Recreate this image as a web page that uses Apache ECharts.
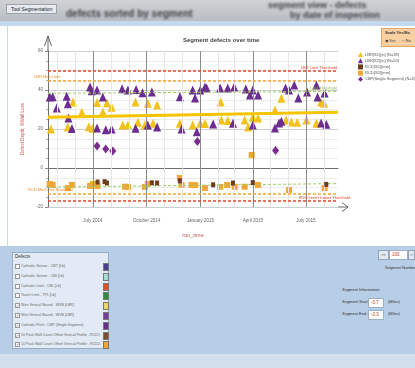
<!DOCTYPE html>
<html>
<head>
<meta charset="utf-8">
<script src="https://cdn.jsdelivr.net/npm/echarts@6/dist/echarts.min.js"></script>
<style>
  html, body { margin: 0; padding: 0; }
  body { width: 415px; height: 368px; overflow: hidden; position: relative; background: #fff;
         font-family: 'Liberation Sans', Arial, sans-serif; }
  .abs { position: absolute; }
  #titlebar { left: 0; top: 0; width: 415px; height: 21px; background: linear-gradient(#d0d2d5, #b9bdc2); overflow: hidden; }
  #titlebar .tab { left: 6px; top: 4px; padding: 1px 4px; font-size: 5px; color: #223; background: #e6e9ee; border: 1px solid #9aa3ad; }
  #titlebar .blur { color: rgba(30,30,30,0.8); filter: blur(1.1px); font-weight: bold; white-space: nowrap; }
  #strip { left: 0; top: 21px; width: 415px; height: 5px; background: #c4d8ee; }
  #leftedge { left: 7px; top: 26px; width: 1px; height: 220px; background: #c9d7e6; }
  #bottom { left: 0; top: 246px; width: 415px; height: 122px; background: #b8cee7; z-index: 2; }
  #bottom .foot { left: 0; top: 108px; width: 415px; height: 14px; background: #d2e0ee; }
  #defects { left: 12px; top: 6px; width: 95px; height: 95px; background: #e2ebf5; border: 1px solid #98adc6; }
  #defects .hd { left: 2px; top: 1px; font-size: 4.5px; color: #333; }
  .row { left: 1px; width: 93px; height: 9px; font-size: 3.6px; color: #666; white-space: nowrap; }
  .row .cb { position: absolute; left: 1px; top: 2px; width: 3px; height: 3px; border: 0.6px solid #999; background: #fff;
             font-size: 4px; line-height: 3px; color: #446; text-align: center; }
  .row .tx { position: absolute; left: 7px; top: 2px; width: 80px; overflow: hidden; }
  .row .sw { position: absolute; left: 89px; top: 1px; width: 4px; height: 6px; border: 0.6px solid #777; }
  .ctl { font-size: 4px; color: #333; white-space: nowrap; }
  .btn { background: #e3e9f0; border: 1px solid #8fa3b9; font-size: 4px; text-align: center; line-height: 8px; color: #345; }
  .inp { background: #fff; border: 1px solid #9bb0c6; font-size: 4.5px; color: #c23b22; line-height: 8px; padding-left: 2px; }
  #scalebox { left: 381px; top: 28px; width: 33px; height: 17px; background: #f8d0a2; border: 1px solid #e4a767; z-index: 2; }
  #chart { left: 0; top: 0; width: 415px; height: 368px; z-index: 1; }
</style>
</head>
<body>
<div id="titlebar" class="abs">
  <div class="abs tab">Tool Segmentation</div>
  <div class="abs blur" style="left:66px;top:8px;font-size:10px;">defects sorted by segment</div>
  <div class="abs blur" style="left:268px;top:0px;font-size:9px;">segment view - defects</div>
  <div class="abs blur" style="left:290px;top:10px;font-size:9px;">by date of inspection</div>
</div>
<div id="strip" class="abs"></div>
<div id="leftedge" class="abs"></div>

<div id="scalebox" class="abs">
  <div class="abs ctl" style="left:3px;top:1px;font-weight:bold;">Scale Yes/No</div>
  <div class="abs ctl" style="left:3px;top:9px;">&#9673; Yes</div>
  <div class="abs ctl" style="left:20px;top:9px;">&#9675; No</div>
</div>

<div id="chart" class="abs"></div>

<div id="bottom" class="abs">
  <div class="abs foot"></div>
  <div id="defects" class="abs">
    <div class="abs hd">Defects</div>
    <div id="rows"></div>
  </div>
  <div class="abs btn" style="left:378px;top:4px;width:9px;height:8px;">&lt;&lt;</div>
  <div class="abs inp" style="left:389px;top:4px;width:15px;height:8px;">100</div>
  <div class="abs btn" style="left:408px;top:4px;width:5px;height:8px;">&gt;</div>
  <div class="abs ctl" style="left:385px;top:19px;">Segment Number</div>
  <div class="abs ctl" style="left:342px;top:41px;">Segment Information:</div>
  <div class="abs ctl" style="left:342px;top:53px;">Segment Start:</div>
  <div class="abs inp" style="left:368px;top:52px;width:12px;height:8px;">-0.7</div>
  <div class="abs ctl" style="left:388px;top:53px;">(Miles)</div>
  <div class="abs ctl" style="left:342px;top:65px;">Segment End:</div>
  <div class="abs inp" style="left:368px;top:64px;width:12px;height:8px;">-0.3</div>
  <div class="abs ctl" style="left:388px;top:65px;">(Miles)</div>
</div>

<script>
// defect list in the bottom panel
const defectNames = [
  'Cathodic Sensor - CBT [Lb]',
  'Cathodic Sensor - CBI [Lb]',
  'Cathodic Limit - CBL [Lb]',
  'Touch Limit - TPL [Lb]',
  'Wire Vertical Bound - WVB [LBR]',
  'Wire Vertical Bound - WVB [LBR]',
  'Cathodic Pitch - CBP (Single Segment)',
  '10 Pack Wall Count Offset Vertical Profile - RCD1 [mm]',
  '10 Pack Wall Count Offset Vertical Profile - RCD2 [mm]'
];
const defectChecked = [false, false, false, false, true, true, true, true, true];
const defectColors = ['#4b3f8f', '#a9dad5', '#d9532c', '#2f8f3f', '#ecd467', '#7b3b98', '#6a2d8a', '#7d4b2a', '#f0a63a'];

// chart data: [date, value]
const lbr1 = [
  ['2014-04-20', 20], ['2014-05-19', 21], ['2014-05-28', 33.8], ['2014-06-12', 28.6],
  ['2014-06-24', 21.2], ['2014-06-30', 20.4], ['2014-07-08', 33.6], ['2014-07-18', 28.7],
  ['2014-07-25', 33.4], ['2014-08-02', 31.2], ['2014-08-21', 22], ['2014-08-30', 22.2],
  ['2014-09-12', 33.8], ['2014-09-16', 23.5], ['2014-09-28', 22], ['2014-10-03', 33.2],
  ['2014-10-12', 23], ['2014-10-19', 32.3], ['2014-11-27', 23], ['2014-12-19', 22.2],
  ['2015-01-01', 23], ['2015-01-09', 22.8], ['2015-02-05', 33.8], ['2015-02-06', 24.6],
  ['2015-02-17', 24.4], ['2015-03-18', 24.6], ['2015-03-24', 21], ['2015-04-01', 26],
  ['2015-04-10', 25.6], ['2015-05-09', 29.7], ['2015-05-20', 35.8], ['2015-05-28', 24.6],
  ['2015-06-06', 23.6], ['2015-06-16', 23.4], ['2015-07-02', 24.6], ['2015-07-19', 23],
  ['2015-07-27', 33.8], ['2015-08-01', 33.2]
];
const lbr2 = [
  ['2014-04-18', 36.4], ['2014-04-23', 36.6], ['2014-04-30', 30.8], ['2014-05-17', 36.8],
  ['2014-05-19', 33], ['2014-05-20', 25.6], ['2014-05-26', 20.3], ['2014-06-26', 41.5],
  ['2014-06-29', 39.6], ['2014-07-08', 40], ['2014-07-18', 36.4], ['2014-07-08', 20.5],
  ['2014-07-23', 19.6], ['2014-08-02', 20], ['2014-08-20', 40.6], ['2014-08-30', 40],
  ['2014-09-13', 40.3], ['2014-09-12', 20.4], ['2014-09-24', 38.6], ['2014-10-03', 22],
  ['2014-10-10', 39], ['2014-10-19', 21], ['2014-11-27', 36.6], ['2014-11-30', 20],
  ['2014-12-19', 40], ['2014-12-23', 35.9], ['2014-12-26', 18.6], ['2015-01-01', 40],
  ['2015-01-09', 41.6], ['2015-01-12', 41], ['2015-01-23', 22.6], ['2015-02-04', 41],
  ['2015-02-17', 41], ['2015-02-26', 23], ['2015-02-28', 41.5], ['2015-03-20', 40.5],
  ['2015-03-27', 37.4], ['2015-04-01', 40], ['2015-04-01', 22], ['2015-04-10', 37.4],
  ['2015-05-09', 20.5], ['2015-05-16', 23.1], ['2015-05-20', 24], ['2015-05-27', 41],
  ['2015-06-02', 40], ['2015-06-11', 42.6], ['2015-06-18', 35.9], ['2015-07-03', 39],
  ['2015-07-19', 42.6], ['2015-07-21', 36.4], ['2015-07-27', 23.1], ['2015-08-02', 38.5],
  ['2015-08-05', 22.5]
];
const rcd1 = [
  ['2014-07-09', -7.2], ['2014-07-21', -7.0], ['2014-07-25', -7.7], ['2014-10-10', -7.6],
  ['2014-10-19', -7.7], ['2014-11-27', -6.6], ['2015-01-23', -8.6], ['2015-02-26', -7.7],
  ['2015-04-01', -7.5], ['2015-08-05', -8.4]
];
const rcd2 = [
  ['2014-04-18', -8.2], ['2014-04-23', -8.7], ['2014-05-19', -10.3], ['2014-05-26', -8.7],
  ['2014-06-26', -9.2], ['2014-07-01', -8.2], ['2014-07-09', -9.2], ['2014-08-25', -9.6],
  ['2014-08-30', -9.7], ['2014-09-28', -9.7], ['2014-10-03', -8.2], ['2014-11-27', -5.1],
  ['2014-11-30', -8.7], ['2014-12-17', -8.7], ['2014-12-23', -8.8], ['2015-01-09', -10.3],
  ['2015-02-04', -9.7], ['2015-02-16', -8.7], ['2015-03-01', -9.7], ['2015-03-18', -9.6],
  ['2015-03-30', 6.7], ['2015-04-10', -8.7], ['2015-06-02', -11.3], ['2015-08-02', -10.3]
];
const cbp = [
  ['2014-07-08', 11.3], ['2014-07-23', 9.7], ['2014-08-04', 8.7], ['2014-12-27', 13.6], ['2015-05-10', 9]
];

const seriesNames = ['LBR(S1)[in] (N=38)', 'LBR(S2)[in] (N=53)', 'RCD(S1)[mm]', 'RCD(S2)[mm]', 'CBP(Single Segment) (N=5)'];

// axis
const xMin = '2014-04-15';
const xMax = '2015-08-25';
const yMin = -20, yMax = 60;
const quarterTicks = ['2014-07-01', '2014-10-01', '2015-01-01', '2015-04-01', '2015-07-01'];
const quarterLabels = ['July 2014', 'October 2014', 'January 2015', 'April 2015', 'July 2015'];
const monthTicks = ['2014-05-01', '2014-06-01', '2014-07-01', '2014-08-01', '2014-09-01', '2014-10-01',
  '2014-11-01', '2014-12-01', '2015-01-01', '2015-02-01', '2015-03-01', '2015-04-01', '2015-05-01',
  '2015-06-01', '2015-07-01', '2015-08-01'];

// reference lines
const upperLimit = 50, upperMax = 45, lowerMin = -13, lowerLimit = -17;
const upperThreshold = [38.3, 39.3];   // start, end
const lowerThreshold = [-9.8, -8.0];
const lbr1Trend = [26.0, 28.6];

const t = s => +echarts.time.parse(s);
const pts = arr => arr.map(p => [t(p[0]), p[1]]);
const quarterTimes = quarterTicks.map(t);

document.getElementById('rows').innerHTML = defectNames.map((n, i) =>
  `<div class="abs row" style="top:${9 + i * 9.8}px">
     <div class="cb">${defectChecked[i] ? '&#10003;' : ''}</div>
     <div class="tx">${n}</div>
     <div class="sw" style="background:${defectColors[i]}"></div>
   </div>`).join('');

const chart = echarts.init(document.getElementById('chart'));

function thLabel(text, pos, color, dist) {
  return { show: true, position: pos, formatter: text, color: color, fontSize: 4, distance: dist || 1 };
}

const AXIS = '#6f6f6f';
const W = 415, H = 368;
const GRID = { left: 48, right: 77, top: 51, bottom: 161 };
// axis ends in pixels, for the open arrow heads
const ax0 = GRID.left, ayTop = GRID.top, axEnd = W - GRID.right, ayBot = H - GRID.bottom;
const arrowStyle = { stroke: '#666', lineWidth: 1 };
const seg = (x1, y1, x2, y2) => ({ type: 'line', silent: true, z: 100, shape: { x1, y1, x2, y2 }, style: arrowStyle });

chart.setOption({
  animation: false,
  textStyle: { fontFamily: 'Liberation Sans' },
  title: {
    text: 'Segment defects over time', left: 178, top: 32,
    textStyle: { fontSize: 6, fontWeight: 'bold', color: '#444' }
  },
  legend: {
    orient: 'vertical', left: 353, top: 47, itemWidth: 5, itemHeight: 5, itemGap: 1.2,
    textStyle: { fontSize: 4, color: '#555', padding: [0, 0, 0, -3] },
    data: seriesNames
  },
  grid: GRID,
  graphic: [
    seg(ax0, ayTop, ax0, ayTop - 15),
    seg(ax0 - 3.5, ayTop - 5, ax0, ayTop - 15),
    seg(ax0 + 3.5, ayTop - 5, ax0, ayTop - 15),
    seg(axEnd, ayBot, axEnd + 10, ayBot),
    seg(axEnd + 4, ayBot - 4.5, axEnd + 10, ayBot),
    seg(axEnd + 4, ayBot + 4.5, axEnd + 10, ayBot)
  ],
  xAxis: {
    type: 'value', min: t(xMin), max: t(xMax),
    name: 'run_time', nameLocation: 'middle', nameGap: 25,
    nameTextStyle: { color: '#c0504d', fontSize: 5.5 },
    axisLine: { lineStyle: { color: AXIS, width: 1 } },
    axisTick: { show: true, customValues: monthTicks.map(t), length: 4, lineStyle: { color: '#999' } },
    axisLabel: {
      customValues: quarterTimes, fontSize: 4.5, color: '#666', margin: 11,
      formatter: v => quarterLabels[quarterTimes.indexOf(v)] || ''
    },
    splitLine: { show: false }
  },
  yAxis: {
    type: 'value', min: yMin, max: yMax, interval: 20,
    name: 'Defect Depth, %Wall Loss', nameLocation: 'middle', nameGap: 12, nameRotate: 90,
    nameTextStyle: { color: '#c0504d', fontSize: 4.5 },
    axisLine: { show: true, lineStyle: { color: AXIS, width: 1 } },
    axisTick: { show: true, length: 3, lineStyle: { color: '#888' } },
    minorTick: { show: true, splitNumber: 4, length: 2, lineStyle: { color: '#aaa' } },
    axisLabel: { fontSize: 4.5, color: '#666', margin: 5 },
    splitLine: { lineStyle: { color: '#cfcfcf' } },
    minorSplitLine: { show: true, lineStyle: { color: '#ececec' } }
  },
  series: [
    {
      name: 'grid', type: 'line', data: [], silent: true, z: 0,
      markLine: {
        silent: true, symbol: ['none', 'none'], label: { show: false },
        data: monthTicks.map(d => ({ xAxis: t(d), lineStyle: { color: '#e6e6e6', width: 1, type: 'solid' } }))
          .concat(quarterTicks.map(d => ({ xAxis: t(d), lineStyle: { color: '#8c8c8c', width: 1, type: 'solid' } })))
      }
    },
    {
      name: 'limits', type: 'line', data: [], silent: true, z: 1,
      markLine: {
        silent: true, symbol: ['none', 'none'],
        data: [
          { yAxis: upperLimit, lineStyle: { color: '#e8452c', width: 1.5, type: [3, 2] },
            label: thLabel('LBR Limit Threshold', 'insideEndTop', '#e8452c') },
          { yAxis: upperMax, lineStyle: { color: '#f4a72a', width: 1.5, type: [3, 2] },
            label: thLabel('LBR Max Limit', 'insideStartTop', '#f08a24', [-14, 1]) },
          [{ coord: [t(xMin), upperThreshold[0]], lineStyle: { color: '#9ccc65', width: 1, type: [3, 2] },
             label: thLabel('LBR Threshold', 'insideEndTop', '#7cb342') },
           { coord: [t(xMax), upperThreshold[1]] }],
          [{ coord: [t(xMin), lbr1Trend[0]], lineStyle: { color: '#f6c400', width: 3, type: 'solid' }, label: { show: false } },
           { coord: [t(xMax), lbr1Trend[1]] }],
          [{ coord: [t(xMin), lowerThreshold[0]], lineStyle: { color: '#9ccc65', width: 1, type: [3, 2] }, label: { show: false } },
           { coord: [t(xMax), lowerThreshold[1]] }],
          { yAxis: lowerMin, lineStyle: { color: '#f4a72a', width: 1.5, type: [3, 2] },
            label: thLabel('RCD Min Limit Threshold', 'insideStartTop', '#f08a24', [-20, 1]) },
          { yAxis: lowerLimit, lineStyle: { color: '#e8452c', width: 1.5, type: [3, 2] },
            label: thLabel('RCD Limit / Lower Threshold', 'insideEndTop', '#e8452c', [-12, 1]) }
        ]
      }
    },
    { name: seriesNames[0], type: 'scatter', data: pts(lbr1), symbol: 'triangle', symbolSize: [8, 9],
      itemStyle: { color: '#f1c21b', opacity: 1 }, z: 2 },
    { name: seriesNames[1], type: 'scatter', data: pts(lbr2), symbol: 'triangle', symbolSize: [8, 9],
      itemStyle: { color: '#6b2d8f', opacity: 1 }, z: 3 },
    { name: seriesNames[2], type: 'scatter', data: pts(rcd1), symbol: 'rect', symbolSize: [4, 5],
      itemStyle: { color: '#6e3d1c', opacity: 1 }, z: 5 },
    { name: seriesNames[3], type: 'scatter', data: pts(rcd2), symbol: 'rect', symbolSize: [6, 6],
      itemStyle: { color: '#f2a733', opacity: 1 }, z: 4 },
    { name: seriesNames[4], type: 'scatter', data: pts(cbp), symbol: 'diamond', symbolSize: [7, 9],
      itemStyle: { color: '#7b2d8e', opacity: 1 }, z: 3 }
  ]
});
</script>
</body>
</html>
